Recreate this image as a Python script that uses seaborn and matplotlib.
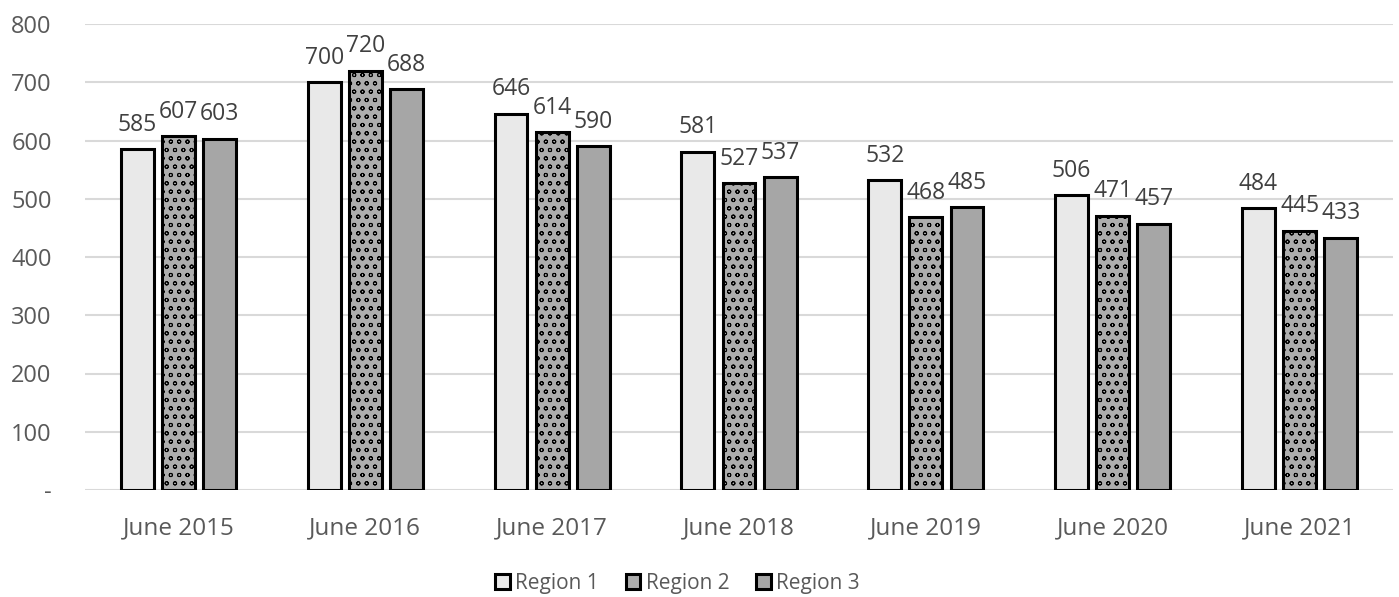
import matplotlib
matplotlib.use("Agg")
import matplotlib.pyplot as plt
import seaborn as sns
import pandas as pd

categories = ["June 2015", "June 2016", "June 2017", "June 2018", "June 2019", "June 2020", "June 2021"]
region1 = [585, 700, 646, 581, 532, 506, 484]
region2 = [607, 720, 614, 527, 468, 471, 445]
region3 = [603, 688, 590, 537, 485, 457, 433]
series_names = ["Region 1", "Region 2", "Region 3"]
yticks = [0, 100, 200, 300, 400, 500, 600, 700, 800]
ytick_labels = ["-", "100", "200", "300", "400", "500", "600", "700", "800"]

rows = []
for name, vals in zip(series_names, [region1, region2, region3]):
    for c, v in zip(categories, vals):
        rows.append({"Month": c, "Region": name, "Value": v})
df = pd.DataFrame(rows)

sns.set_theme(style="white")
plt.rcParams["font.family"] = ["Open Sans", "DejaVu Sans"]
plt.rcParams["hatch.color"] = "#6a6a6a"
plt.rcParams["hatch.linewidth"] = 0.7

fig = plt.figure(figsize=(13.99, 5.97), dpi=100)
ax = fig.add_axes([85 / 1399, 1 - 490 / 597, (1393 - 85) / 1399, (490 - 24) / 597])

palette = {"Region 1": "#e9e9e9", "Region 2": "#adadad", "Region 3": "#a6a6a6"}
sns.barplot(data=df, x="Month", y="Value", hue="Region", order=categories,
            hue_order=series_names, palette=palette, width=0.66, gap=0.2,
            edgecolor="black", linewidth=2.2, saturation=1, ax=ax, legend=True,
            errorbar=None)

hatches = {"Region 1": "", "Region 2": "oo", "Region 3": ""}
for cont, name in zip(ax.containers, series_names):
    for p in cont:
        p.set_hatch(hatches[name])
    ax.bar_label(cont, labels=[str(int(v)) for v in cont.datavalues], padding=9,
                 fontsize=16.5, color="#404040")

ax.set_ylim(0, 800)
ax.set_xlim(-0.5, len(categories) - 0.5)
ax.set_yticks(yticks)
ax.set_yticklabels(ytick_labels)
ax.yaxis.grid(True, color="#d9d9d9", linewidth=1.5)
ax.set_axisbelow(True)
for s in ax.spines.values():
    s.set_visible(False)
ax.set_xlabel("")
ax.set_ylabel("")
ax.tick_params(axis="y", labelsize=17, labelcolor="#595959", length=0, pad=24)
ax.tick_params(axis="x", labelsize=17.5, labelcolor="#595959", length=0, pad=19)

handles, labels = ax.get_legend_handles_labels()
ax.legend(handles, labels, loc="center", bbox_to_anchor=(0.453, -0.2), ncol=3,
          frameon=False, fontsize=15, labelcolor="#595959", handlelength=0.7,
          handleheight=0.7, handletextpad=0.25, columnspacing=1.3)

fig.savefig("out.png", dpi=100)
